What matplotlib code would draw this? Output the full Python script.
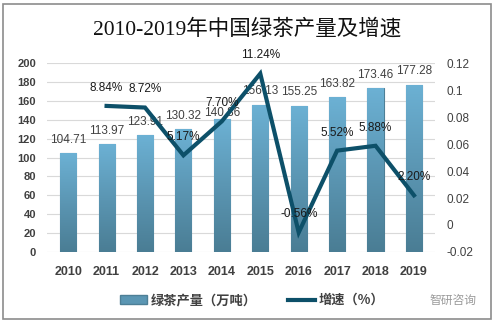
#!/usr/bin/env python3

import numpy as np
from matplotlib import pyplot as plt
from matplotlib.patches import Rectangle, Patch
from matplotlib.lines import Line2D
from matplotlib.colors import LinearSegmentedColormap

plt.rcParams['font.family'] = ['Liberation Sans', 'Noto Sans CJK SC', 'DejaVu Sans']

years = ['2010', '2011', '2012', '2013', '2014', '2015', '2016', '2017', '2018', '2019']
output = [104.71, 113.97, 123.91, 130.32, 140.86, 156.13, 155.25, 163.82, 173.46, 177.28]
growth_years = years[1:]
growth = [8.84, 8.72, 5.17, 7.70, 11.24, -0.56, 5.52, 5.88, 2.20]

title = '2010-2019年中国绿茶产量及增速'
bar_name = '绿茶产量（万吨）'
line_name = '增速（%）'

line_color = '#0d5069'
text_color = '#404040'
bar_cmap = LinearSegmentedColormap.from_list('bar', ['#4a7d94', '#5b96b3', '#6cb1d4'])

fig = plt.figure(figsize=(4.95, 3.25), dpi=100)
fig.patches.append(Rectangle((0.006, 0.02), 0.986, 0.968, transform=fig.transFigure,
                             fill=False, edgecolor='#8c8c8c', linewidth=1.2))

ax = fig.add_axes([0.095, 0.225, 0.784, 0.58])
ax2 = ax.twinx()

x = np.arange(len(years))
bars = ax.bar(x, output, width=0.42, color='#5b96b3', edgecolor='#4d7f96', linewidth=0.8, zorder=2)
grad = np.linspace(0, 1, 256).reshape(-1, 1)
for b in bars:
    im = ax.imshow(grad, cmap=bar_cmap, origin='lower', aspect='auto', zorder=2.5,
                   extent=[b.get_x(), b.get_x() + b.get_width(), 0, b.get_height()])
    im.set_clip_path(b)
# the 2014 value label sits lower so it clears the growth label above it
for xi, v in zip(x, output):
    off = 0 if years[xi] == '2014' else 8
    ax.text(xi, v + off, f'{v:.2f}', ha='center', va='bottom', fontsize=8.5, color=text_color, zorder=4)

ax.set_ylim(0, 200)
ax.set_yticks(np.arange(0, 201, 20))
ax.set_xlim(-0.55, len(years) - 0.45)
ax.set_xticks(x)
ax.set_xticklabels(years)
ax.grid(axis='y', color='#d9d9d9', linewidth=0.8, zorder=0)
ax.set_axisbelow(True)
for s in ax.spines.values():
    s.set_visible(False)
for s in ax2.spines.values():
    s.set_visible(False)
ax.tick_params(axis='both', length=0, colors=text_color)
ax.tick_params(axis='x', pad=10, labelsize=9)
ax.tick_params(axis='y', pad=8, labelsize=8)
for lab in ax.get_xticklabels() + ax.get_yticklabels():
    lab.set_fontweight('bold')

gx = x[1:]
gv = np.array(growth) / 100
ax2.plot(gx, gv, color=line_color, linewidth=3, zorder=3, solid_joinstyle='miter')
for xi, v, g in zip(gx, gv, growth):
    ax2.text(xi, v + 0.009, f'{g:.2f}%', ha='center', va='bottom', fontsize=8.5, color='#1a1a1a', zorder=5)
ax2.set_ylim(-0.02, 0.12)
ax2.set_yticks([-0.02, 0, 0.02, 0.04, 0.06, 0.08, 0.1, 0.12])
ax2.set_yticklabels(['-0.02', '0', '0.02', '0.04', '0.06', '0.08', '0.1', '0.12'])
ax2.tick_params(axis='y', length=0, pad=8, labelsize=8.5, colors=text_color)
ax.set_zorder(1)
ax2.set_zorder(2)
ax2.patch.set_visible(False)

fig.text(0.5, 0.91, title, ha='center', va='center', fontsize=15.5, color='#111111',
         family=['Liberation Serif', 'Noto Sans CJK SC', 'DejaVu Sans'])

handles = [Patch(facecolor='#5b96b3', edgecolor='#4d7f96'),
           Line2D([0], [0], color=line_color, linewidth=3)]
leg = fig.legend(handles, [bar_name, line_name], loc='center', bbox_to_anchor=(0.51, 0.077),
                 ncol=2, frameon=False, handlelength=2.0, handleheight=0.6, columnspacing=2.4,
                 handletextpad=0.3, prop={'family': ['Noto Sans CJK SC'], 'weight': 'bold', 'size': 9.5})
for t in leg.get_texts():
    t.set_color(text_color)

fig.text(0.915, 0.077, '智研咨询', ha='center', va='center', fontsize=8.5, color='#9a9a9a',
         family=['Noto Sans CJK SC'])

fig.savefig('out.png', dpi=100)
